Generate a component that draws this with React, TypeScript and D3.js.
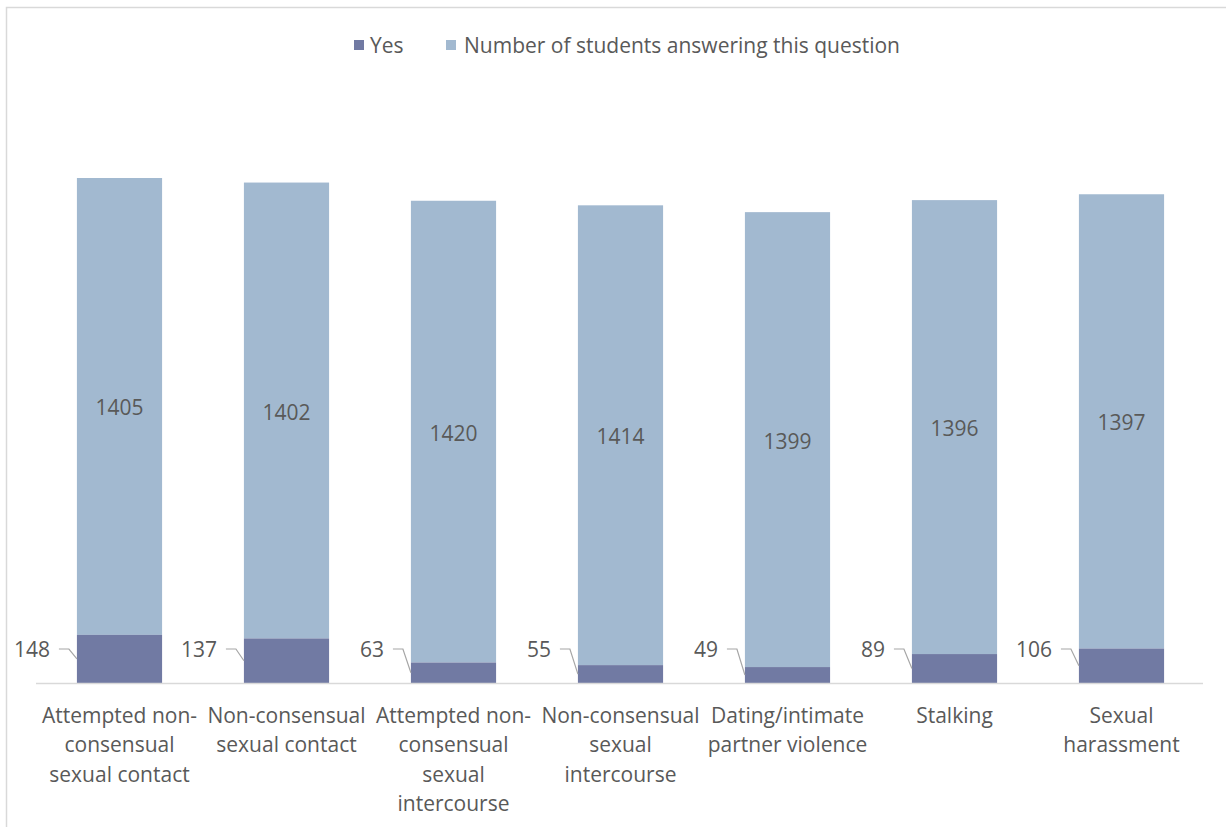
import React from "react";
import * as d3 from "d3";

const categories: string[][] = [
  ["Attempted non-", "consensual", "sexual contact"],
  ["Non-consensual", "sexual contact"],
  ["Attempted non-", "consensual", "sexual", "intercourse"],
  ["Non-consensual", "sexual", "intercourse"],
  ["Dating/intimate", "partner violence"],
  ["Stalking"],
  ["Sexual", "harassment"],
];
const yesValues = [148, 137, 63, 55, 49, 89, 106];
const answeredValues = [1405, 1402, 1420, 1414, 1399, 1396, 1397];
const seriesNames = ["Yes", "Number of students answering this question"];
const colors = ["#717AA3", "#A2B9D0"];

const W = 1226;
const H = 827;
const FONT = "'Open Sans', sans-serif";
const TEXT = "#595959";
const FS = 21;

export default function App() {
  const x = d3
    .scaleBand<number>()
    .domain(d3.range(categories.length))
    .range([36, 1205])
    .paddingInner(0.49)
    .paddingOuter(0.245);
  const y = d3.scaleLinear().domain([0, 1553]).range([683, 178]);
  const bw = x.bandwidth();

  return (
    <div style={{ position: "absolute", left: 0, top: 0 }}>
      <svg width={W} height={H} style={{ display: "block", fontFamily: FONT }}>
        <rect x={0} y={0} width={W} height={H} fill="#fff" />
        <rect x={6.5} y={7.5} width={W + 10} height={H + 10} fill="none" stroke="#d9d9d9" strokeWidth={1.5} />
        {/* legend */}
        <g fontSize={FS} fill={TEXT}>
          <rect x={354} y={40} width={10} height={10} fill={colors[0]} />
          <text x={370} y={53}>{seriesNames[0]}</text>
          <rect x={446} y={40} width={10} height={10} fill={colors[1]} />
          <text x={464} y={53}>{seriesNames[1]}</text>
        </g>
        {/* bars */}
        {categories.map((_, i) => {
          const x0 = x(i)!;
          const yesTop = y(yesValues[i]);
          const totTop = y(yesValues[i] + answeredValues[i]);
          return (
            <g key={i}>
              <rect x={x0} y={totTop} width={bw} height={yesTop - totTop} fill={colors[1]} />
              <rect x={x0} y={yesTop} width={bw} height={y(0) - yesTop} fill={colors[0]} />
            </g>
          );
        })}
        {/* axis */}
        <line x1={36} x2={1203} y1={683.5} y2={683.5} stroke="#d9d9d9" strokeWidth={1.5} />
        {/* value labels */}
        {categories.map((_, i) => {
          const x0 = x(i)!;
          const yesTop = y(yesValues[i]);
          const totTop = y(yesValues[i] + answeredValues[i]);
          const cx = x0 + bw / 2;
          const ly = 649;
          const lx = x0 - 27;
          const yesMid = (yesTop + y(0)) / 2;
          return (
            <g key={"l" + i} fontSize={FS} fill={TEXT}>
              <text x={cx} y={(totTop + yesTop) / 2 + 1} textAnchor="middle" dominantBaseline="central">
                {answeredValues[i]}
              </text>
              <text x={lx} y={ly} textAnchor="end" dominantBaseline="central">
                {yesValues[i]}
              </text>
              <polyline
                points={`${lx + 9},${ly} ${lx + 19},${ly} ${x0},${yesMid}`}
                fill="none"
                stroke="#a6a6a6"
                strokeWidth={1.2}
              />
            </g>
          );
        })}
        {/* category labels */}
        {categories.map((lines, i) => (
          <text key={"c" + i} x={x(i)! + bw / 2} y={723} textAnchor="middle" fontSize={FS} fill={TEXT}>
            {lines.map((ln, j) => (
              <tspan key={j} x={x(i)! + bw / 2} dy={j === 0 ? 0 : 29.3}>
                {ln}
              </tspan>
            ))}
          </text>
        ))}
      </svg>
    </div>
  );
}
